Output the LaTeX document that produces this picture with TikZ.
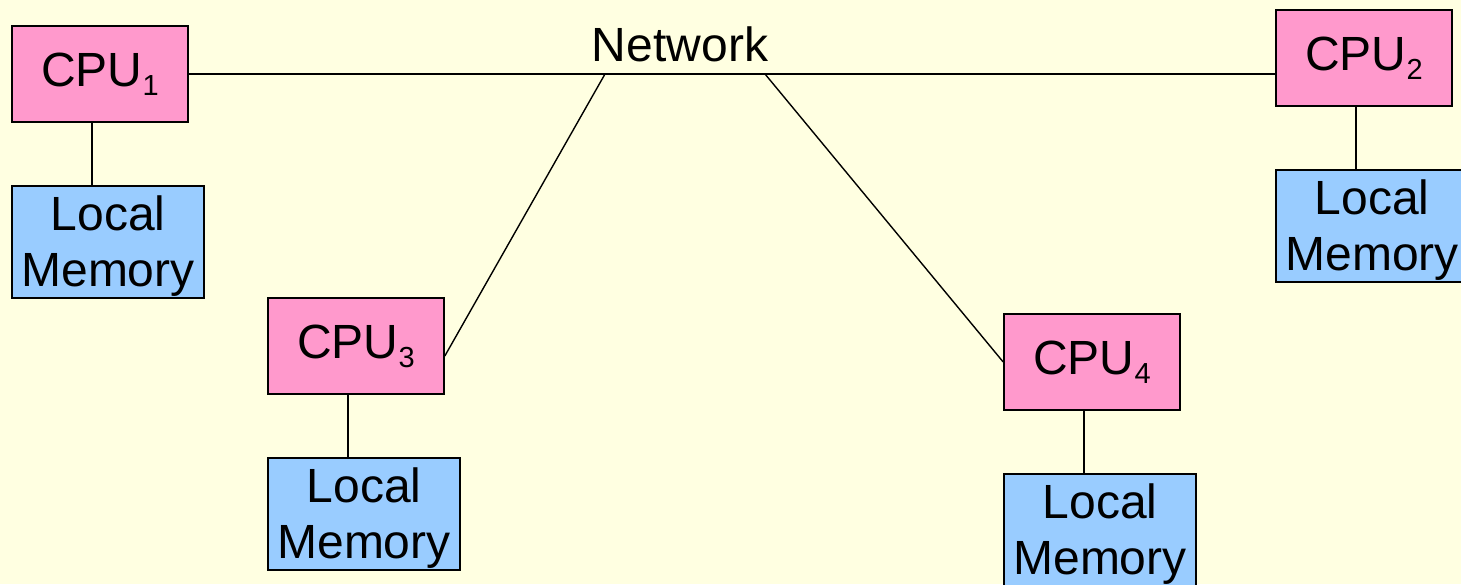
\documentclass[tikz,border=0pt]{standalone}
\usepackage{fontspec}
\setmainfont{Liberation Sans}
\definecolor{bgc}{RGB}{255,255,225}
\definecolor{cpuc}{RGB}{255,153,204}
\definecolor{memc}{RGB}{153,204,255}
\newcommand{\cpusub}[1]{\raisebox{-9pt}{\fontsize{29}{29}\selectfont #1}}
\begin{document}
\begin{tikzpicture}[x=1pt,y=-1pt,
  cpubox/.style={draw=black,line width=1.6pt,fill=cpuc,minimum width=176pt,minimum height=96pt,inner sep=0pt,
    font=\fontsize{48}{56}\selectfont},
  membox/.style={draw=black,line width=1.6pt,fill=memc,minimum width=192pt,minimum height=112pt,inner sep=0pt},
  memtext/.style={align=center,inner sep=0pt,font=\fontsize{48}{56}\selectfont,yshift=-4pt},
  wire/.style={line width=1.4pt}]
\fill[bgc] (0,0) rectangle (1461,584);
\useasboundingbox (0,0) rectangle (1461,584);
% CPUs
\node[cpubox] (cpu1) at (100,74) {CPU\cpusub{1}};
\node[cpubox] (cpu2) at (1364,58) {CPU\cpusub{2}};
\node[cpubox] (cpu3) at (356,346) {CPU\cpusub{3}};
\node[cpubox] (cpu4) at (1092,362) {CPU\cpusub{4}};
% memories
\node[membox,label={[memtext]center:Local\\Memory}] (mem1) at (108,242) {};
\node[membox,label={[memtext]center:Local\\Memory}] (mem2) at (1372,226) {};
\node[membox,label={[memtext]center:Local\\Memory}] (mem3) at (364,514) {};
\node[membox,label={[memtext]center:Local\\Memory}] (mem4) at (1100,530) {};
% network
\node[font=\fontsize{48}{56}\selectfont,inner sep=0pt] (net) at (680,44) {Network};
\coordinate (n3) at (605,74);
\coordinate (n4) at (765,74);
\draw[wire] (cpu1.east) -- (cpu1.east -| cpu2.west);
\draw[wire] (n3) -- ([yshift=-10]cpu3.east);
\draw[wire] (n4) -- (cpu4.west);
% CPU to memory
\foreach \i in {1,2,3,4}{
  \draw[wire] ([xshift=-8]cpu\i.south) -- ([xshift=-8]cpu\i.south |- mem\i.north);
}
\end{tikzpicture}
\end{document}
